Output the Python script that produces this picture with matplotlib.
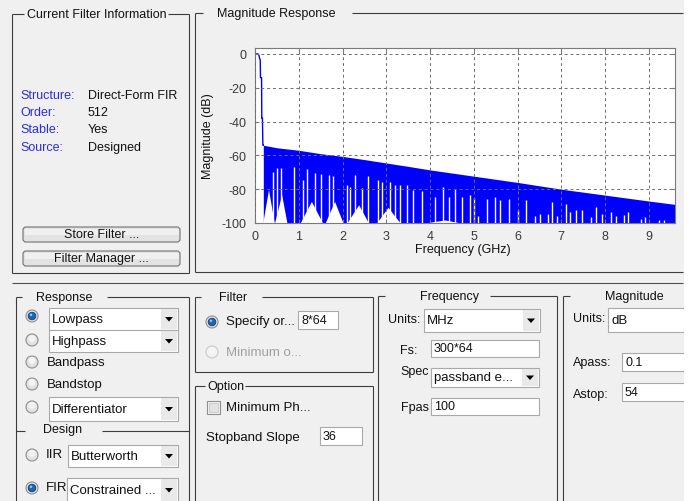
import matplotlib.pyplot as plt
from matplotlib.patches import Rectangle, Circle, Polygon, FancyBboxPatch

# --- dados (resposta em magnitude) ---
pass_f = [0, 0.07, 0.09, 0.11, 0.12, 0.125, 0.15, 0.155, 0.17, 0.18, 0.19]
pass_db = [0, 0, -1, -3, -3.5, -14, -14, -38, -38, -54, -54]

stop_f = [0.19, 0.5, 1, 1.5, 2, 2.5, 3, 3.5, 4, 5, 6, 7, 8, 9, 9.6]
stop_top = [-54, -55.5, -57, -59, -60.6, -62.5, -64.5, -66.5, -68.6, -72.3, -76, -80, -83.5, -87, -89]

# "lobos" brancos abaixo da faixa azul
lump_lo = [0.19, 0.46, 1.05, 1.62, 2.12, 2.80, 3.97]
lump_f = [0.32, 0.62, 1.30, 1.83, 2.38, 3.05, 4.35]
lump_hi = [0.45, 0.74, 1.55, 2.02, 2.60, 3.32, 4.66]
lump_db = [-80.5, -83.5, -87.5, -87.5, -89.5, -91, -98.5]

# linhas brancas (zeros) que sobem a partir de -100 dB
gap_f = [0.40, 0.50, 0.60, 0.90, 1.09, 1.19, 1.37, 1.51, 1.68, 1.78, 2.10, 2.18, 2.29, 2.44,
         2.58, 2.81, 2.90, 3.09, 3.21, 3.32, 3.47, 3.60, 3.82, 4.12, 4.29, 4.43, 4.58, 4.73,
         4.91, 5.00, 5.10, 5.31, 5.48, 5.61, 5.80, 6.02, 6.20, 6.40, 6.51, 6.70, 6.79, 6.91,
         7.10, 7.21, 7.33, 7.48, 7.69, 7.79, 7.92, 8.13, 8.24, 8.44, 8.53, 8.82, 8.92, 9.24, 9.35]
gap_top = [-69.6, -67.6, -67.6, -66.6, -74.5, -68, -70.6, -71, -71.6, -72, -77.5, -78.5, -71.6, -79.5,
           -72.2, -74.5, -75.5, -75.5, -77.5, -77.5, -77.5, -80.5, -81, -84.5, -78.5, -84.5, -80, -84.5,
           -83.5, -85.5, -96, -86, -84.5, -86.5, -86, -92.5, -86.5, -96, -94.5, -94.5, -87.5, -96,
           -89, -93.5, -92.5, -92.5, -96.4, -90.5, -94.4, -93.4, -96, -95.4, -93.6, -97.4, -96.4, -98.4, -98.4]

x_ticks = list(range(10))
y_ticks = [0, -20, -40, -60, -80, -100]

info_labels = ["Structure:", "Order:", "Stable:", "Source:"]
info_values = ["Direct-Form FIR", "512", "Yes", "Designed"]

plt.rcParams['font.family'] = ['Liberation Sans', 'DejaVu Sans']
plt.rcParams['axes.unicode_minus'] = False

BG = '#F0F0F0'
LINE = '#3C3C3C'
TXT = '#111111'
BLUE = '#0000FF'

fig = plt.figure(figsize=(6.9, 5.02), dpi=100, facecolor=BG)

# camada da interface (coordenadas em pixels, y para baixo)
ui = fig.add_axes([0, 0, 1, 1], zorder=0)
ui.set_xlim(0, 690)
ui.set_ylim(502, 0)
ui.axis('off')


def hline(x0, x1, y, c=LINE):
    ui.plot([x0, x1], [y, y], color=c, lw=0.8, solid_capstyle='butt')


def vline(x, y0, y1, c=LINE):
    ui.plot([x, x], [y0, y1], color=c, lw=0.8, solid_capstyle='butt')


def label(x, y, s, color=TXT, fs=9, ha='left', z=2):
    ui.text(x, y, s, ha=ha, va='center', fontsize=fs, color=color, zorder=z)


def group(x0, x1, y0, y1, title, tx, gap0, gap1):
    hline(x0, gap0, y0)
    if gap1 is not None:
        hline(gap1, x1, y0)
    vline(x0, y0, y1)
    if x1 < 684:
        vline(x1, y0, y1)
    if y1 < 500:
        hline(x0, x1, y1)
    label(tx, y0, title)


def radio(x, y, on=False, enabled=True):
    ec = '#8E8F8F' if enabled else '#C8C8C8'
    fc = '#E2E2E2' if enabled else '#F2F2F2'
    ui.add_patch(Circle((x, y), 6, fc=fc, ec=ec, lw=0.8, zorder=3))
    ui.add_patch(Circle((x, y - 1.5), 3.5, fc='#F4F4F4' if enabled else '#F6F6F6', ec='none', zorder=3))
    if on:
        ui.add_patch(Circle((x, y), 3.8, fc='#1E64B4', ec='#0D3F7A', lw=0.6, zorder=4))
        ui.add_patch(Circle((x - 1, y - 1.2), 1.3, fc='#8FC3F0', ec='none', zorder=4))


def field(x0, y0, x1, y1, text, fs=9):
    ui.add_patch(Rectangle((x0, y0), x1 - x0, y1 - y0, fc='white', ec='#A9A9A9', lw=0.8, zorder=3))
    ui.text(x0 + 3, (y0 + y1) / 2, text, ha='left', va='center', fontsize=fs, color=TXT, zorder=4)


def dropdown(x0, y0, x1, y1, text):
    field(x0, y0, x1, y1, text, fs=9.5)
    if x1 < 684:
        ui.add_patch(Rectangle((x1 - 17, y0 + 1), 16, y1 - y0 - 2, fc='#E9E9E9', ec='none', zorder=4))
        cx, cy = x1 - 9, (y0 + y1) / 2
        ui.add_patch(Polygon([[cx - 4, cy - 2], [cx + 4, cy - 2], [cx, cy + 2.5]], closed=True,
                             fc='black', ec='none', zorder=5))


def button(x0, y0, x1, y1, text):
    ui.add_patch(FancyBboxPatch((x0, y0), x1 - x0, y1 - y0, boxstyle='round,pad=0,rounding_size=3',
                                fc='#E3E3E3', ec='#707070', lw=0.8, zorder=3))
    ui.add_patch(Rectangle((x0 + 1.5, y0 + 1.5), x1 - x0 - 3, (y1 - y0) / 2 - 1.5,
                           fc='#F0F0F0', ec='none', zorder=3))
    ui.text((x0 + x1) / 2, (y0 + y1) / 2, text, ha='center', va='center', fontsize=9, color=TXT, zorder=4)


# --- painel superior esquerdo ---
group(12, 189, 15, 274, "Current Filter Information", 27, 24, 168)
for i, (lab, val) in enumerate(zip(info_labels, info_values)):
    y = [96, 113, 130.5, 148][i]
    label(20, y, lab, color='#2B2BE8')
    label(88, y, val)
button(23, 228, 180, 243, "Store Filter ...")
button(23, 252, 180, 267, "Filter Manager ...")

# --- painel da resposta ---
hline(195, 203, 14)
hline(352, 683, 14)
vline(195, 14, 273)
hline(195, 683, 273)
label(217, 14, "Magnitude Response")

# separador
hline(12, 683, 284, c='#505050')

# --- Response / Design ---
group(16, 189, 298, 503, "Response", 36, 22, 107)
radio(32, 317, on=True)
dropdown(49, 309, 178, 331, "Lowpass")
radio(32, 341)
dropdown(49, 331, 178, 353, "Highpass")
radio(32, 363)
label(47, 363, "Bandpass", fs=9.5)
radio(32, 385)
label(47, 385, "Bandstop", fs=9.5)
radio(32, 408)
dropdown(49, 398, 178, 422, "Differentiator")
hline(16, 25, 432)
hline(102, 189, 432)
label(43, 430, "Design")
radio(32, 456)
label(46, 455, "IIR", fs=9.5)
dropdown(68, 446, 178, 468, "Butterworth")
radio(32, 489, on=True)
label(46, 488, "FIR", fs=9.5)
dropdown(67, 479, 178, 503, "Constrained ...")

# --- Filter ---
group(195, 373, 298, 373, "Filter", 219, 201, 262)
radio(212, 323, on=True)
label(226, 322, "Specify or...", fs=9.5)
field(298, 312, 338, 330, "8*64")
radio(212, 353, enabled=False)
label(226, 353, "Minimum o...", color='#A0A0A0', fs=9.5)

# --- Option ---
group(195, 373, 387, 503, "Option", 207, 205, 245)
ui.add_patch(Rectangle((207, 402), 13, 13, fc='#F3F3F3', ec='#8E8F8F', lw=0.8, zorder=3))
ui.add_patch(Rectangle((209, 404), 9, 9, fc='#E2E2E2', ec='#C4C4C4', lw=0.5, zorder=3))
label(226, 408, "Minimum Ph...", fs=9.5)
label(206, 438, "Stopband Slope", fs=9.5)
field(320, 428, 362, 446, "36")

# --- Frequency ---
group(378, 557, 297, 503, "Frequency", 420, 385, 490)
label(388, 320, "Units:")
dropdown(424, 310, 540, 333, "MHz")
label(400, 351, "Fs:")
field(431, 341, 539, 358, "300*64")
label(400, 372, "Spec")
dropdown(431, 369, 539, 388, "passband e...")
label(401, 408, "Fpas")
field(431, 399, 539, 416, "100")

# --- Magnitude ---
hline(563, 570, 297)
vline(563, 297, 503)
label(605, 297, "Magnitude")
label(573, 319, "Units:")
dropdown(608, 309, 700, 333, "dB")
label(573, 363, "Apass:")
field(622, 354, 700, 372, "0.1")
label(573, 395, "Astop:")
field(622, 384, 700, 402, "54")

# borda branca à direita
ui.add_patch(Rectangle((683.5, 0), 7, 502, fc='white', ec='none', zorder=6))

# --- gráfico ---
ax = fig.add_axes([255 / 690, 1 - 224 / 502, 420 / 690, 175 / 502], zorder=2)
ax.set_facecolor('white')
ax.fill_between(stop_f, stop_top, -100, color=BLUE, lw=0)
for lo, f, hi, db in zip(lump_lo, lump_f, lump_hi, lump_db):
    ax.fill([lo, f, hi], [-100, db, -100], color='white', lw=0)
ax.vlines(gap_f, -100, gap_top, color='white', lw=1.0)
ax.plot(pass_f, pass_db, color=BLUE, lw=1.0)

ax.set_xlim(0, 9.6)
ax.set_ylim(-100, 3.5)
ax.set_xticks(x_ticks)
ax.set_yticks(y_ticks)
ax.grid(True, color='#6E6E6E', linestyle=(0, (3, 3)), lw=0.7)
ax.set_axisbelow(False)
for s in ax.spines.values():
    s.set_color('#7A7A7A')
    s.set_linewidth(0.8)
ax.tick_params(direction='in', length=3, color='#7A7A7A', labelsize=9, labelcolor='#3A3A3A',
               top=True, right=True)
ax.tick_params(axis='x', pad=5)
ax.tick_params(axis='y', pad=6)

ax.set_ylabel("Magnitude (dB)", fontsize=9, color=TXT, va='center')
ax.yaxis.set_label_coords(-0.113, 0.5)
ax.set_xlabel("Frequency (GHz)", fontsize=9, color=TXT, va='center')
ax.xaxis.set_label_coords(0.495, -0.149)

fig.savefig("out.png", dpi=100, facecolor=BG)
